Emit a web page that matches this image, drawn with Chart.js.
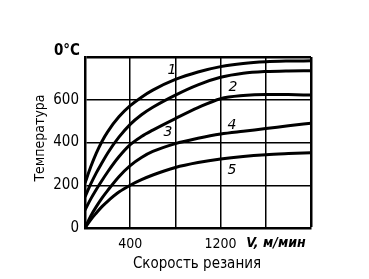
<!DOCTYPE html>
<html><head><meta charset="utf-8">
<script src="https://cdn.jsdelivr.net/npm/chart.js@4/dist/chart.umd.min.js"></script>
<style>html,body{margin:0;padding:0;background:#fff}#wrap{width:369px;height:279px}</style>
</head><body><div id="wrap"><canvas id="c" width="369" height="279"></canvas></div>
<script>
const speeds = [0, 50, 100, 150, 200, 300, 400, 500, 600, 800, 1000, 1200, 1400, 1600, 1800, 2000];
const curve1 = [210, 285, 350, 405, 450, 520, 572, 612, 645, 695, 730, 755, 770, 778, 781, 782];
const curve2 = [145, 205, 258, 305, 350, 425, 485, 530, 565, 622, 670, 705, 724, 732, 735, 736];
const curve3 = [84, 135, 180, 222, 262, 333, 390, 428, 458, 512, 563, 605, 620, 625, 624, 622];
const curve4 = [0, 55, 100, 140, 175, 240, 292, 330, 358, 395, 420, 440, 453, 465, 478, 490];
const curve5 = [0, 38, 70, 100, 125, 168, 200, 226, 248, 283, 306, 323, 335, 343, 348, 352];
const curveNames = ['1', '2', '3', '4', '5'];
const labelPos = [[770, 739], [1310, 660], [735, 449], [1300, 482], [1300, 271]];
const xTickLabels = {400: '400', 1200: '1200'};
const yTickLabels = {0: '0', 200: '200', 400: '400', 600: '600'};
const yUnit = '0°C';
const xUnit = 'V, м/мин';
const xTitle = 'Скорость резания';
const yTitle = 'Температура';

const series = [curve1, curve2, curve3, curve4, curve5];
const FONT = '"DejaVu Sans Condensed", "DejaVu Sans", sans-serif';

const textPlugin = {
  id: 'texts',
  afterDraw(chart) {
    const {ctx, scales: {x, y}} = chart;
    ctx.save();
    ctx.fillStyle = '#000';
    ctx.font = 'italic 14px "DejaVu Sans", sans-serif';
    ctx.textAlign = 'center';
    ctx.textBaseline = 'middle';
    labelPos.forEach((p, i) => {
      ctx.fillText(curveNames[i], x.getPixelForValue(p[0]), y.getPixelForValue(p[1]));
    });
    ctx.font = 'bold 15px ' + FONT;
    ctx.textAlign = 'right';
    ctx.fillText(yUnit, 80, 51);
    ctx.font = 'italic bold 14px ' + FONT;
    ctx.textAlign = 'center';
    ctx.fillText(xUnit, 276, 243);
    ctx.font = '15px ' + FONT;
    ctx.fillText(xTitle, 197, 264);
    ctx.font = '14px ' + FONT;
    ctx.translate(40, 138);
    ctx.rotate(-Math.PI / 2);
    ctx.fillText(yTitle, 0, 0);
    ctx.restore();
  }
};

new Chart(document.getElementById('c'), {
  type: 'line',
  data: {
    labels: speeds,
    datasets: series.map((s, i) => ({
      label: curveNames[i],
      data: s.map((v, j) => ({x: speeds[j], y: v})),
      borderColor: '#000',
      borderWidth: 3,
      pointRadius: 0,
      fill: false,
      cubicInterpolationMode: 'monotone'
    }))
  },
  options: {
    responsive: false,
    animation: false,
    layout: {padding: {left: 0, top: 57, right: 58, bottom: 0}},
    plugins: {legend: {display: false}, tooltip: {enabled: false}},
    scales: {
      x: {
        type: 'linear', min: 0, max: 2000,
        afterFit(s) { s.height = 51; },
        border: {color: '#000', width: 2.5},
        grid: {color: '#000', lineWidth: c => (c.tick && c.tick.value === 2000 ? 2.5 : 1.5), drawTicks: false},
        ticks: {stepSize: 400, autoSkip: false, maxRotation: 0, padding: 8, color: '#000',
          font: {family: FONT, size: 14},
          callback: v => xTickLabels[v] || ''}
      },
      y: {
        type: 'linear', min: 0, max: 800,
        afterFit(s) { s.width = 85; },
        border: {color: '#000', width: 2.5},
        grid: {color: '#000', lineWidth: c => (c.tick && c.tick.value === 800 ? 2.5 : 1.5), drawTicks: false},
        ticks: {stepSize: 200, padding: 6, color: '#000',
          font: {family: FONT, size: 15},
          callback: v => yTickLabels[v] || ''}
      }
    }
  },
  plugins: [textPlugin]
});
</script></body></html>
